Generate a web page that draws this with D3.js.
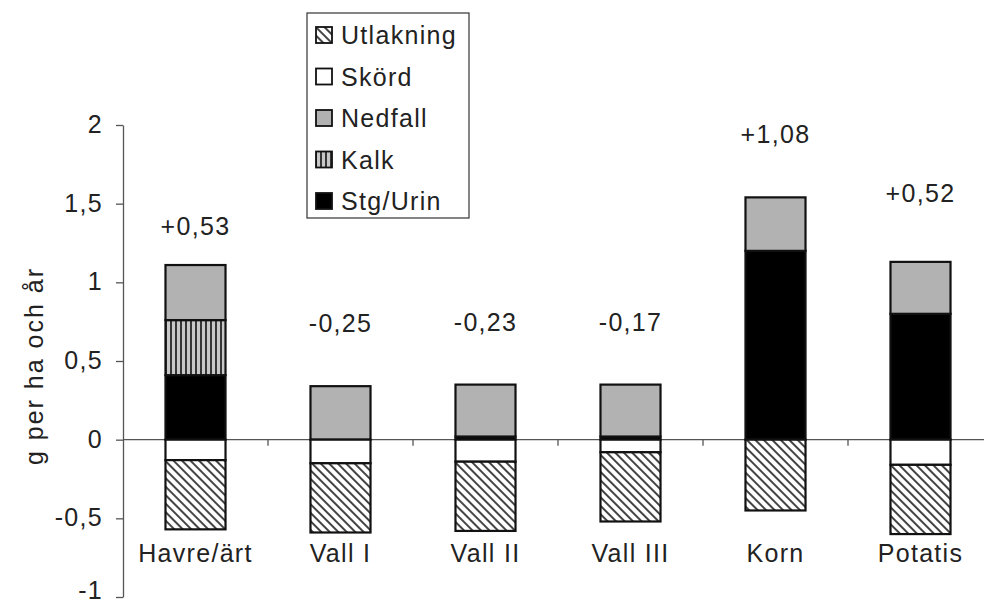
<!DOCTYPE html>
<html>
<head>
<meta charset="utf-8">
<script src="https://cdn.jsdelivr.net/npm/d3@7"></script>
<style>
  html, body { margin: 0; padding: 0; background: #fff; }
  svg { display: block; font-family: Arial, "Liberation Sans", Helvetica, sans-serif; }
  svg text { letter-spacing: 1.3px; }
</style>
</head>
<body>
<div id="chart"></div>
<script>
// values (g per ha och år)
const categories = ['Havre/ärt', 'Vall I', 'Vall II', 'Vall III', 'Korn', 'Potatis'];
const stgUrin   = [0.41, 0.00, 0.02, 0.02, 1.20, 0.80];
const kalk      = [0.35, 0.00, 0.00, 0.00, 0.00, 0.00];
const nedfall   = [0.35, 0.34, 0.33, 0.33, 0.34, 0.33];
const skord     = [-0.13, -0.15, -0.14, -0.08, 0.00, -0.16];
const utlakning = [-0.44, -0.44, -0.44, -0.44, -0.45, -0.44];
const netLabels = ['+0,53', '-0,25', '-0,23', '-0,17', '+1,08', '+0,52'];
const netLabelAt = [1.36, 0.74, 0.75, 0.75, 1.94, 1.57]; // where the label sits, in axis units
const yTicks = [-1, -0.5, 0, 0.5, 1, 1.5, 2];
const legendNames = ['Utlakning', 'Skörd', 'Nedfall', 'Kalk', 'Stg/Urin'];

(function(){
  const width = 984, height = 605;
  const keys = ['stg', 'kalk', 'nedfall', 'skord', 'utl'];
  const rows = categories.map((c, i) => ({
    cat: c, stg: stgUrin[i], kalk: kalk[i], nedfall: nedfall[i], skord: skord[i], utl: utlakning[i]
  }));
  const stack = d3.stack().keys(keys).offset(d3.stackOffsetDiverging)(rows);

  const svg = d3.select('#chart').append('svg')
    .attr('width', width).attr('height', height);

  const defs = svg.append('defs');
  const hatch = defs.append('pattern')
    .attr('id', 'hatch').attr('patternUnits', 'userSpaceOnUse')
    .attr('width', 6).attr('height', 6)
    .attr('patternTransform', 'rotate(-45)');
  hatch.append('rect').attr('width', 6).attr('height', 6).attr('fill', '#fff');
  hatch.append('line').attr('x1', 1).attr('y1', 0).attr('x2', 1).attr('y2', 6)
    .attr('stroke', '#444').attr('stroke-width', 2);

  const stripes = defs.append('pattern')
    .attr('id', 'stripes').attr('patternUnits', 'userSpaceOnUse')
    .attr('width', 5).attr('height', 5);
  stripes.append('rect').attr('width', 5).attr('height', 5).attr('fill', '#c8c8c8');
  stripes.append('line').attr('x1', 1).attr('y1', 0).attr('x2', 1).attr('y2', 5)
    .attr('stroke', '#111').attr('stroke-width', 1.6);

  const fills = { stg: '#000', kalk: 'url(#stripes)', nedfall: '#b2b2b2', skord: '#fff', utl: 'url(#hatch)' };

  const x = d3.scaleBand().domain(categories).range([123, 993])
    .paddingInner(0.586).paddingOuter(0.293);
  const y = d3.scaleLinear().domain([-1, 2]).range([597, 125]);

  // y axis
  const yAxis = svg.append('g')
    .attr('transform', 'translate(123,0)')
    .call(d3.axisLeft(y).tickValues(yTicks).tickSize(7).tickSizeOuter(0)
      .tickPadding(13).tickFormat(d => String(d).replace('.', ',')));
  yAxis.select('.domain').attr('stroke', '#555').attr('stroke-width', 1.3);
  yAxis.selectAll('.tick line').attr('stroke', '#555').attr('stroke-width', 1.3);
  yAxis.selectAll('text').attr('font-size', 25).attr('fill', '#222')
    .attr('dy', d => d === -1 ? '0.05em' : '0.3em')
    .attr('font-family', 'Arial, "Liberation Sans", sans-serif');

  svg.append('text')
    .attr('transform', `translate(43,${y(0.5) + 5}) rotate(-90)`)
    .attr('text-anchor', 'middle')
    .attr('font-size', 25).attr('fill', '#222')
    .style('letter-spacing', '2px')
    .text('g per ha och år');

  // zero / category line with boundary ticks
  svg.append('line')
    .attr('x1', 123).attr('x2', width).attr('y1', y(0)).attr('y2', y(0))
    .attr('stroke', '#555').attr('stroke-width', 1.3);
  svg.append('g').selectAll('line')
    .data(categories.slice(1))
    .enter().append('line')
    .attr('x1', d => x(d) - x.step() * x.paddingInner() / 2)
    .attr('x2', d => x(d) - x.step() * x.paddingInner() / 2)
    .attr('y1', y(0)).attr('y2', y(0) + 6)
    .attr('stroke', '#555').attr('stroke-width', 1.3);

  // stacked bars
  svg.append('g').selectAll('g')
    .data(stack)
    .enter().append('g')
    .attr('fill', d => fills[d.key])
    .selectAll('rect')
    .data(d => d.filter(s => s[1] !== s[0]))
    .enter().append('rect')
    .attr('x', d => x(d.data.cat))
    .attr('y', d => y(Math.max(d[0], d[1])))
    .attr('width', x.bandwidth())
    .attr('height', d => Math.abs(y(d[0]) - y(d[1])))
    .attr('stroke', '#111').attr('stroke-width', 2.2);

  // net labels
  svg.append('g').selectAll('text')
    .data(categories)
    .enter().append('text')
    .attr('x', d => x(d) + x.bandwidth() / 2)
    .attr('y', (d, i) => y(netLabelAt[i]) + 9)
    .attr('text-anchor', 'middle')
    .attr('font-size', 25).attr('fill', '#222')
    .text((d, i) => netLabels[i]);

  // category labels
  svg.append('g').selectAll('text')
    .data(categories)
    .enter().append('text')
    .attr('x', d => x(d) + x.bandwidth() / 2)
    .attr('y', 562)
    .attr('text-anchor', 'middle')
    .attr('font-size', 25).attr('fill', '#222')
    .text(d => d);

  // legend
  const legFills = [fills.utl, fills.skord, fills.nedfall, fills.kalk, fills.stg];
  const leg = svg.append('g');
  leg.append('rect').attr('x', 307).attr('y', 13).attr('width', 162).attr('height', 205)
    .attr('fill', '#fff').attr('stroke', '#333').attr('stroke-width', 1.2);
  const ly = d3.scalePoint().domain(legendNames).range([35, 201]);
  const item = leg.selectAll('g.item').data(legendNames).enter().append('g')
    .attr('transform', d => `translate(0,${ly(d)})`);
  item.append('rect').attr('x', 316).attr('y', -8).attr('width', 16).attr('height', 16)
    .attr('fill', (d, i) => legFills[i]).attr('stroke', '#111').attr('stroke-width', 1.8);
  item.append('text').attr('x', 341).attr('y', 9)
    .attr('font-size', 25).attr('fill', '#222')
    .text(d => d);
})();
</script>
</body>
</html>
